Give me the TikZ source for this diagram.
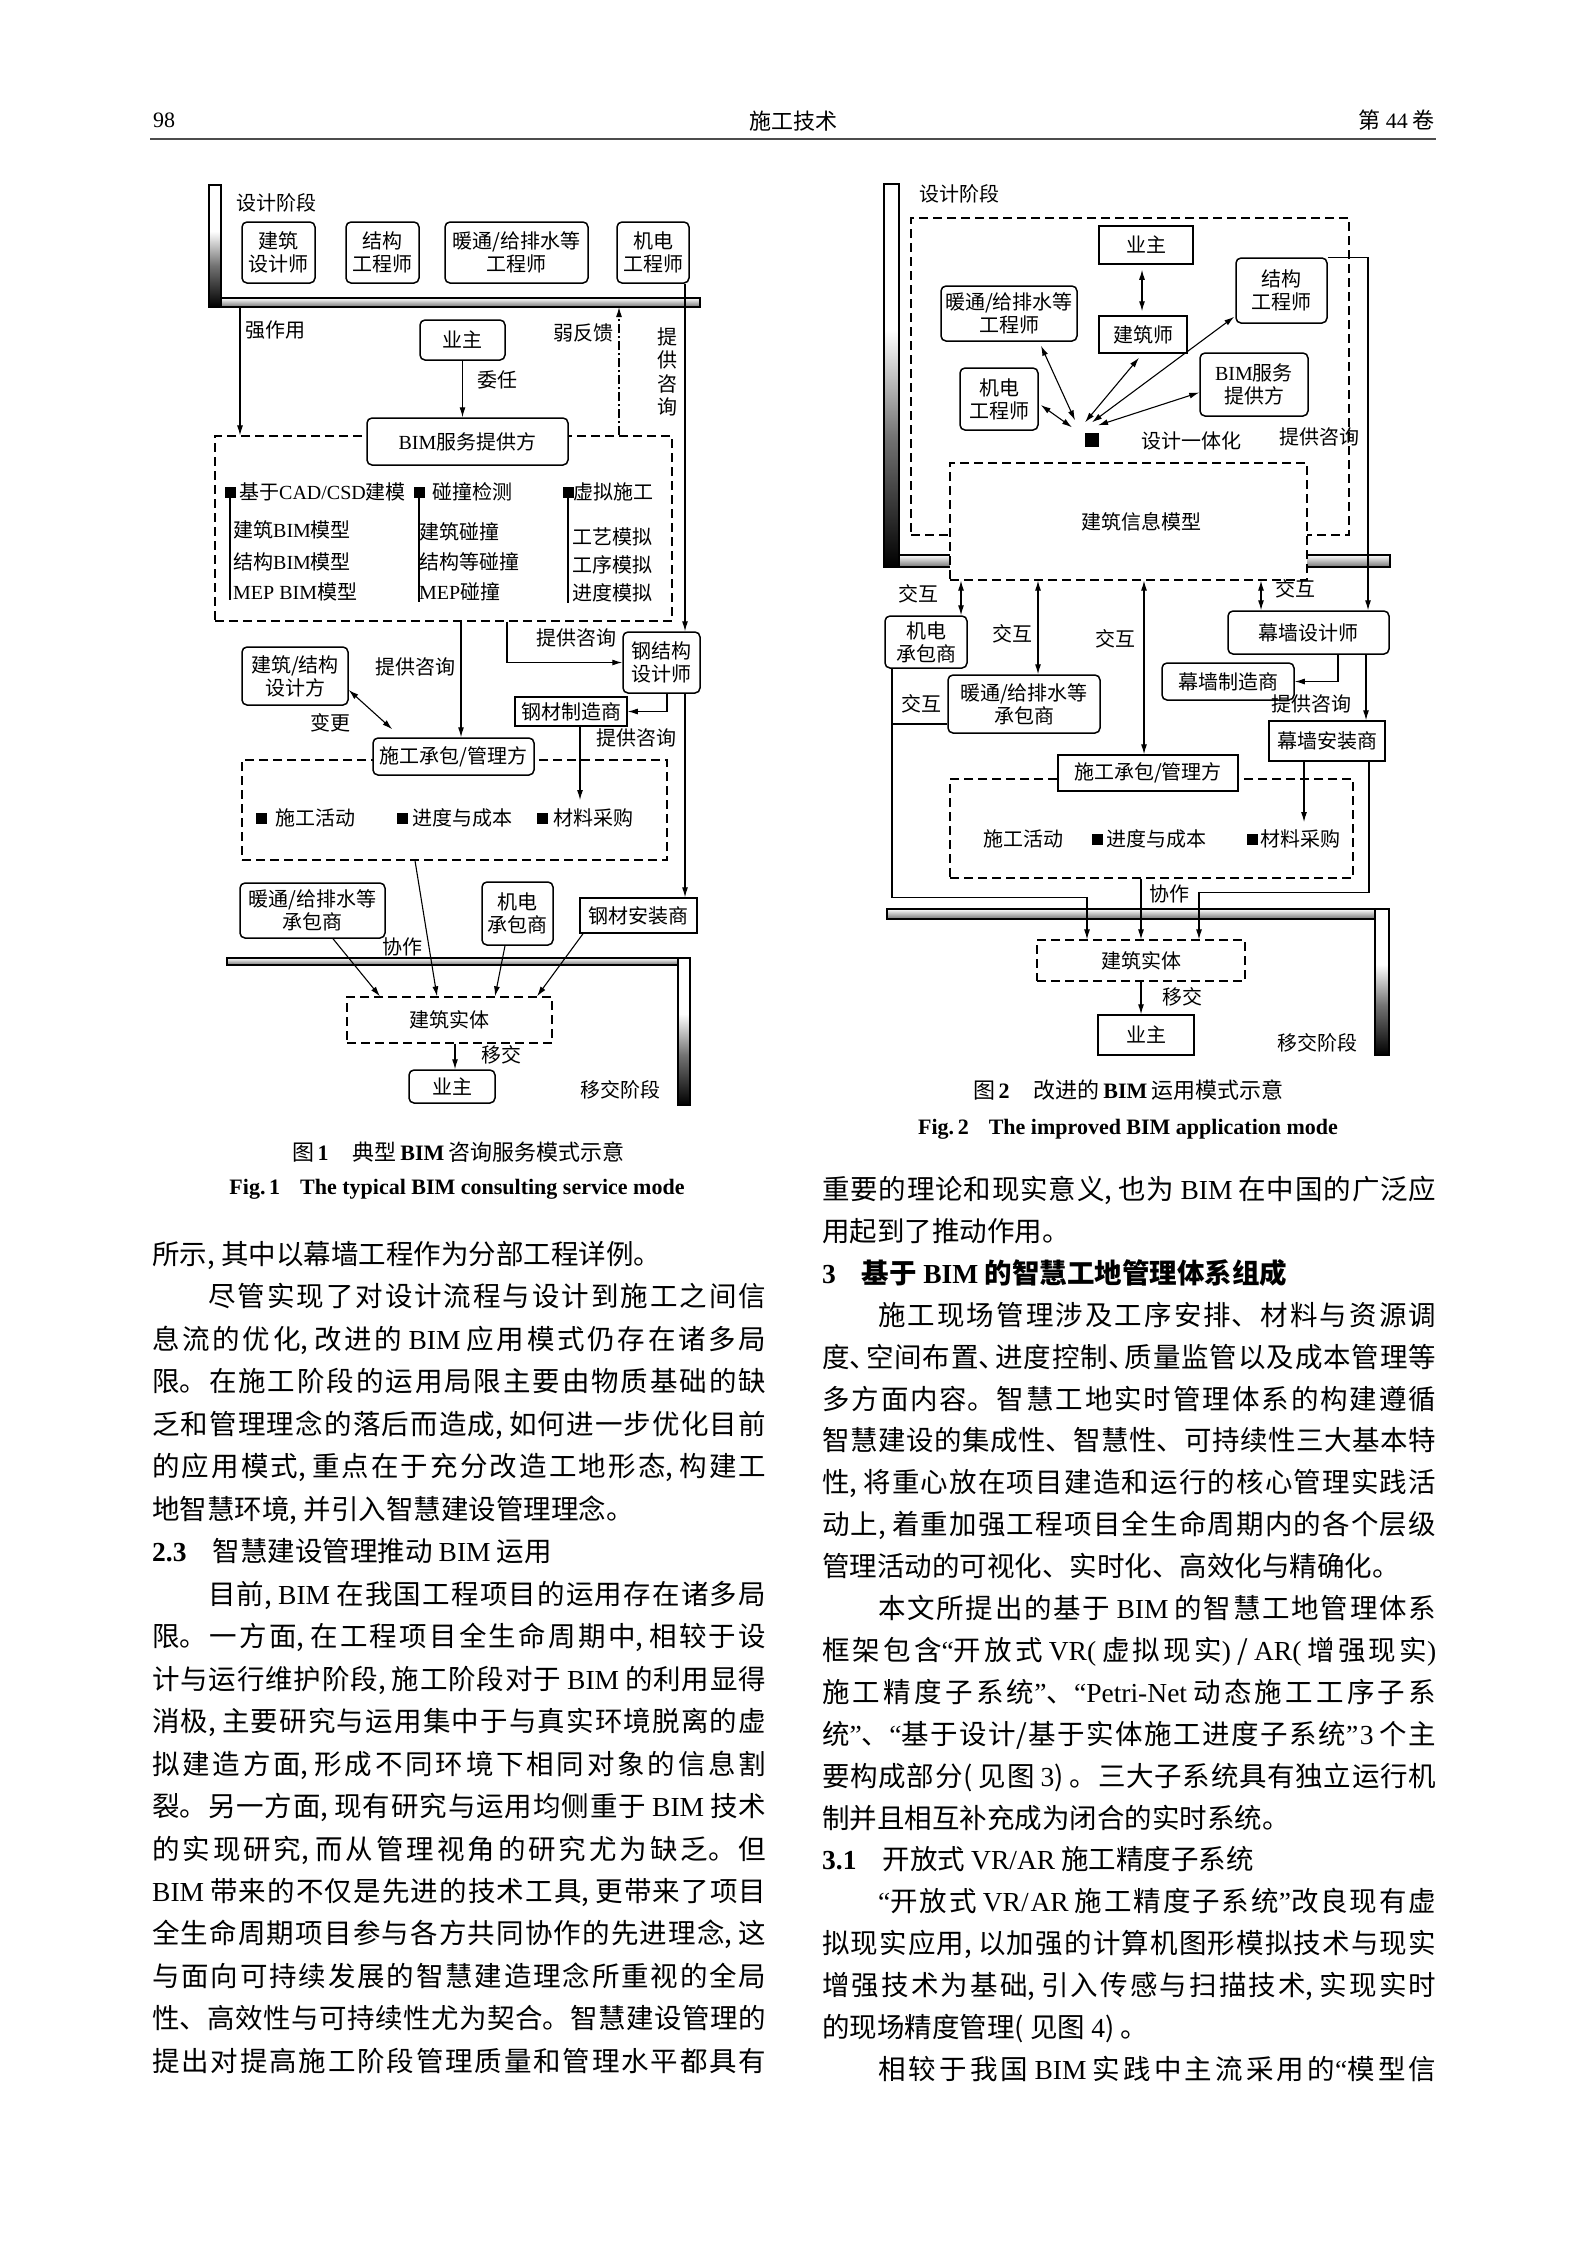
\documentclass[tikz,border=0pt]{standalone}
\usepackage{fontspec}
\setmainfont{Noto Sans CJK SC}
\newfontfamily\lat{Liberation Serif}
\usetikzlibrary{arrows.meta}
\XeTeXlinebreaklocale "zh"
\XeTeXlinebreakskip=0pt
\pgfdeclareverticalshading{barfade}{100bp}{color(0bp)=(black); color(25bp)=(black); color(42bp)=(black!55); color(56bp)=(white); color(100bp)=(white)}
\newcommand{\colfont}[1]{\fontsize{27.5}{#1}\selectfont\XeTeXlinebreakskip=0pt plus 1fil minus 1pt\relax\parfillskip=0pt plus 1fill\relax\parindent=0pt\parskip=0pt\relax}
\newcommand{\dun}{\makebox[0.6em][l]{、}}

\begin{document}
\begin{tikzpicture}[x=1pt, y=-1pt,
    every node/.style={font=\fontsize{20}{23}\selectfont},
    rbox/.style={draw, line width=1.5pt, rounded corners=5pt, fill=white, align=center, inner sep=0pt},
    sbox/.style={draw, line width=1.5pt, fill=white, align=center, inner sep=0pt},
    dbox/.style={draw, line width=1.3pt, dash pattern=on 9pt off 5pt, fill=white, align=center, inner sep=0pt},
    zone/.style={draw, line width=1.3pt, dash pattern=on 9pt off 5pt, inner sep=0pt},
    lbl/.style={inner sep=0pt},
    bul/.style={fill=black, minimum size=11pt, inner sep=0pt},
    arr/.style={line width=1.1pt, -{Latex[length=10pt,width=6pt]}},
    darr/.style={line width=1.1pt, {Latex[length=10pt,width=6pt]}-{Latex[length=10pt,width=6pt]}},
    plain/.style={line width=1.1pt},
    weak/.style={dash pattern=on 9pt off 3pt on 2pt off 3pt},
    hbar/.style={draw, line width=1.2pt, top color=white, bottom color=black!55, inner sep=0pt},
    vbar/.style={draw, line width=1.2pt, shading=barfade, inner sep=0pt}]

    \useasboundingbox (0,0) rectangle (1587,2244);
    \fill[white] (0,0) rectangle (1587,2244);

    % Running head
    \node[lbl, anchor=west, font=\fontsize{22}{24}\selectfont\lat] (pnum) at (153,120) {98};
    \node[lbl, font=\fontsize{22}{24}\selectfont] (jname) at (793,121) {施工技术};
    \node[lbl, anchor=east, font=\fontsize{22}{24}\selectfont] (vol) at (1435,120) {第 {\lat 44} 卷};
    \draw[line width=2pt, black!70] (150,139) -- (1436,139);

    %%%% Fig. 1
    % Design phase bar
    \node[hbar, minimum width=491pt, minimum height=9pt] (fdline) at (454.5,302.5) {};
    \node[vbar, minimum width=12pt, minimum height=122pt] (fdbar) at (215,246) {};
    \node[lbl] (fdlabel) at (276,203) {设计阶段};

    % Designers
    \node[rbox, minimum width=73pt, minimum height=61pt] (farch) at (278.5,252.5) {建筑\\设计师};
    \node[rbox, minimum width=73pt, minimum height=61pt] (fstr) at (382.5,252.5) {结构\\工程师};
    \node[rbox, minimum width=143pt, minimum height=61pt] (fhvac) at (516.5,252.5) {暖通/给排水等\\工程师};
    \node[rbox, minimum width=72pt, minimum height=61pt] (fmep) at (653,252.5) {机电\\工程师};

    % BIM service zone
    \node[zone, minimum width=457pt, minimum height=185pt] (fzone1) at (443.5,528.5) {};
    \node[rbox, minimum width=85pt, minimum height=40pt] (fowner) at (462.5,340) {业主};
    \node[rbox, minimum width=201pt, minimum height=47pt] (fbim) at (467.5,441.5) {{\lat BIM}服务提供方};
    \node[lbl] (fstrlbl) at (275,330) {强作用};
    \node[lbl] (fentrust) at (497,380) {委任};
    \node[lbl] (fweaklbl) at (583,333) {弱反馈};
    \node[lbl, align=center, font=\fontsize{20}{23.5}\selectfont] (fvask) at (667,372) {提\\供\\咨\\询};

    \coordinate (fstrong) at (240,307);
    \coordinate (fweak) at (619,307);
    \draw[arr] (fstrong) -- (fstrong |- fzone1.north);
    \draw[arr, weak] (fweak |- fzone1.north) -- (fweak);
    \draw[arr] (fowner.south) -- (fowner.south |- fbim.north);

    % Service columns
    \node[bul] (fb1) at (230,492) {};
    \node[bul] (fb2) at (419,492) {};
    \node[bul] (fb3) at (568,492) {};
    \node[lbl, anchor=west] (fc1) at (239,492) {基于{\lat CAD/CSD}建模};
    \node[lbl, anchor=west] (fc2) at (432,492) {碰撞检测};
    \node[lbl, anchor=west] (fc3) at (573,492) {虚拟施工};
    \draw[plain] (fb1.center) -- ++(0,108);
    \draw[plain] (fb2.center) -- ++(0,110);
    \draw[plain] (fb3.center) -- ++(0,111);
    \node[lbl, anchor=west] (fc1a) at (233,530) {建筑{\lat BIM}模型};
    \node[lbl, anchor=west] (fc1b) at (233,562) {结构{\lat BIM}模型};
    \node[lbl, anchor=west] (fc1c) at (233,592) {{\lat MEP BIM}模型};
    \node[lbl, anchor=west] (fc2a) at (419,532) {建筑碰撞};
    \node[lbl, anchor=west] (fc2b) at (419,562) {结构等碰撞};
    \node[lbl, anchor=west] (fc2c) at (419,592) {{\lat MEP}碰撞};
    \node[lbl, anchor=west] (fc3a) at (572,537) {工艺模拟};
    \node[lbl, anchor=west] (fc3b) at (572,565) {工序模拟};
    \node[lbl, anchor=west] (fc3c) at (572,593) {进度模拟};

    % Construction zone
    \node[rbox, minimum width=77pt, minimum height=61pt] (fsteel) at (661.5,662.5) {钢结构\\设计师};
    \node[rbox, minimum width=106pt, minimum height=58pt] (fdesigner) at (295,676) {建筑/结构\\设计方};
    \node[sbox, minimum width=112pt, minimum height=29pt] (fmaker) at (571,711.5) {钢材制造商};
    \node[zone, minimum width=425pt, minimum height=100pt] (fzone2) at (454.5,810) {};
    \node[rbox, minimum width=161pt, minimum height=37pt] (fcontr) at (453.5,756.5) {施工承包/管理方};
    \node[lbl] (fask1) at (415,667) {提供咨询};
    \node[lbl] (fask2) at (576,638) {提供咨询};
    \node[lbl] (fask3) at (636,738) {提供咨询};
    \node[lbl] (fchange) at (330,723) {变更};

    \node[bul] (fd1) at (261,818) {};
    \node[bul] (fd2) at (402,818) {};
    \node[bul] (fd3) at (542,818) {};
    \node[lbl, anchor=west] (fwork) at (275,818) {施工活动};
    \node[lbl, anchor=west] (fcost) at (412,818) {进度与成本};
    \node[lbl, anchor=west] (fbuyl) at (553,818) {材料采购};

    \draw[arr] ([xshift=32pt]fmep.south) -- ([xshift=23.5pt]fsteel.north);
    \draw[arr] ([xshift=17.5pt]fzone1.south) -- ([xshift=7.5pt]fcontr.north);
    \draw[arr] ([xshift=63.5pt]fzone1.south) |- (fsteel.west);
    \draw[darr] ([yshift=-14pt]fdesigner.east) -- ([shift={(20,-8)}]fcontr.north west);
    \draw[arr] ([xshift=5.5pt]fsteel.south) |- (fmaker.east);
    \coordinate (fbuy) at (580,800);
    \draw[arr] ([xshift=9pt]fmaker.south) -- (fbuy);

    % Contractors and hand-over
    \node[hbar, minimum width=463pt, minimum height=7pt] (ftline) at (458.5,961.5) {};
    \node[vbar, minimum width=12pt, minimum height=147pt] (ftbar) at (684,1031.5) {};
    \node[rbox, minimum width=145pt, minimum height=55pt] (fhvacc) at (312.5,910.5) {暖通/给排水等\\承包商};
    \node[rbox, minimum width=71pt, minimum height=63pt] (fmepc) at (517.5,913.5) {机电\\承包商};
    \node[sbox, minimum width=117pt, minimum height=35pt] (finst) at (638.5,915.5) {钢材安装商};
    \node[dbox, minimum width=205pt, minimum height=46pt] (fbody) at (449.5,1020) {建筑实体};
    \node[rbox, minimum width=86pt, minimum height=33pt] (fowner2) at (452,1086.5) {业主};
    \node[lbl] (fcoop) at (402,947) {协作};
    \node[lbl] (fhand) at (501,1055) {移交};
    \node[lbl] (fhandlbl) at (620,1090) {移交阶段};

    \draw[arr] ([xshift=23.5pt]fsteel.south) -- ([xshift=46.5pt]finst.north);
    \draw[arr] ([xshift=20.5pt]fhvacc.south) -- ([xshift=-69.5pt]fbody.north);
    \draw[arr] ([xshift=-39.5pt]fzone2.south) -- ([xshift=-12.5pt]fbody.north);
    \draw[arr] ([xshift=-12.5pt]fmepc.south) -- ([xshift=45.5pt]fbody.north);
    \draw[arr] ([xshift=-55.5pt]finst.south) -- ([xshift=87.5pt]fbody.north);
    \draw[arr] ([xshift=5.5pt]fbody.south) -- ([xshift=3pt]fowner2.north);

    %%%% Fig. 2
    % Design phase bar
    \node[hbar, minimum width=506pt, minimum height=12pt] (gdline) at (1137,561) {};
    \node[vbar, minimum width=15pt, minimum height=383pt] (gdbar) at (891.5,375.5) {};
    \node[lbl] (gdlabel) at (959,194) {设计阶段};

    % Integrated design
    \node[zone, minimum width=438pt, minimum height=317pt] (gzone1) at (1130,376.5) {};
    \node[sbox, minimum width=94pt, minimum height=38pt] (gowner) at (1146,245) {业主};
    \node[sbox, minimum width=88pt, minimum height=37pt] (garch) at (1143,334.5) {建筑师};
    \node[rbox, minimum width=91pt, minimum height=65pt] (gstr) at (1281.5,290.5) {结构\\工程师};
    \node[rbox, minimum width=136pt, minimum height=55pt] (ghvac) at (1009,313.5) {暖通/给排水等\\工程师};
    \node[rbox, minimum width=78pt, minimum height=62pt] (gmep) at (999,399) {机电\\工程师};
    \node[rbox, minimum width=108pt, minimum height=63pt] (gbim) at (1254,384.5) {{\lat BIM}服务\\提供方};
    \node[fill=black, minimum size=14pt, inner sep=0pt] (gint) at (1092,439.5) {};
    \node[lbl] (ginteg) at (1191,441) {设计一体化};
    \node[lbl] (gask1) at (1319.5,437) {提供咨询};
    \node[dbox, minimum width=357pt, minimum height=117pt] (gmodel) at (1128.5,521.5) {\hspace*{26pt}建筑信息模型};

    \draw[darr, shorten <=5pt, shorten >=4pt] ([xshift=-4pt]gowner.south) -- ([xshift=-1pt]garch.north);
    \draw[darr] ([shift={(32,4)}]ghvac.south) -- ([shift={(-17,-12)}]gint.north);
    \draw[darr] ([shift={(2,6)}]gmep.east) -- ([shift={(-20,-5)}]gint.north);
    \draw[darr] ([shift={(-4,4)}]garch.south) -- ([shift={(-7,-10)}]gint.north);
    \draw[darr] ([shift={(-1,-7)}]gstr.south west) -- ([shift={(0,-10)}]gint.north);
    \draw[darr] ([shift={(0,8)}]gbim.west) -- ([shift={(6,-7)}]gint.north);

    % Construction side
    \node[rbox, minimum width=82pt, minimum height=52pt] (gmepc) at (926,642) {机电\\承包商};
    \node[rbox, minimum width=152pt, minimum height=58pt] (ghvacc) at (1024,704) {暖通/给排水等\\承包商};
    \node[rbox, minimum width=161pt, minimum height=43pt] (gcwd) at (1308.5,632.5) {幕墙设计师};
    \node[rbox, minimum width=132pt, minimum height=37pt] (gcwm) at (1228,681.5) {幕墙制造商};
    \node[sbox, minimum width=116pt, minimum height=40pt] (gcwi) at (1327,741) {幕墙安装商};
    \node[zone, minimum width=403pt, minimum height=99pt] (gzone2) at (1151.5,828.5) {};
    \node[sbox, minimum width=180pt, minimum height=36pt] (gcontr) at (1148,773) {施工承包/管理方};
    \node[lbl] (gwork) at (1023.5,839) {施工活动};
    \node[bul] (gd2) at (1097.5,839) {};
    \node[bul] (gd3) at (1252,839) {};
    \node[lbl, anchor=west] (gcost) at (1106,839) {进度与成本};
    \node[lbl, anchor=west] (gbuyl) at (1260,839) {材料采购};
    \node[lbl] (gi1) at (918.5,594) {交互};
    \node[lbl] (gi2) at (1012.5,634) {交互};
    \node[lbl] (gi3) at (1115.5,639) {交互};
    \node[lbl] (gi4) at (1295.5,589) {交互};
    \node[lbl] (gi5) at (921.5,704) {交互};
    \node[lbl] (gask2) at (1311.5,704) {提供咨询};

    \draw[arr] (gstr.north east) -| ([xshift=59.5pt]gcwd.north);
    \draw[darr] ([xshift=35pt]gmepc.north) -- ([xshift=35pt]gmepc.north |- gmodel.south);
    \draw[darr] ([xshift=14pt]ghvacc.north) -- ([xshift=14pt]ghvacc.north |- gmodel.south);
    \draw[darr] ([xshift=-4pt]gcontr.north) -- ([xshift=-4pt]gcontr.north |- gmodel.south);
    \draw[darr] ([xshift=-47.5pt]gcwd.north) -- ([xshift=-47.5pt]gcwd.north |- gmodel.south);
    \draw[arr] ([xshift=29.5pt]gcwd.south) |- (gcwm.east);
    \draw[arr] ([xshift=57.5pt]gcwd.south) -- ([xshift=39pt]gcwi.north);
    \coordinate (gbuy) at (1304,822);
    \draw[arr] ([xshift=-23pt]gcwi.south) -- (gbuy);

    % Hand-over
    \node[hbar, minimum width=488pt, minimum height=10pt] (gtline) at (1131,914) {};
    \node[vbar, minimum width=14pt, minimum height=146pt] (gtbar) at (1382,982) {};
    \node[dbox, minimum width=208pt, minimum height=41pt] (gbody) at (1141,960.5) {建筑实体};
    \node[sbox, minimum width=96pt, minimum height=40pt] (gowner2) at (1146,1035) {业主};
    \node[lbl] (gcoop) at (1169.5,894) {协作};
    \node[lbl] (ghand) at (1182.5,997) {移交};
    \node[lbl] (ghandlbl) at (1317.5,1043) {移交阶段};

    \draw[arr] ([xshift=42pt]gcwi.south) -- ++(0,131) -| ([xshift=58pt]gbody.north);
    \draw[arr] ([xshift=-34pt]gmepc.south) -- ++(0,229) -| ([xshift=-54pt]gbody.north);
    \draw[plain] ([yshift=-20pt]ghvacc.west) -- ++(-56,0);
    \draw[arr] (gzone2.south -| gbody.north) -- (gbody.north);
    \draw[arr] (gbody.south) -- (gbody.south |- gowner2.north);

    % Captions
    \node[lbl, font=\fontsize{22}{24}\selectfont] (fcapcn) at (458,1152) {图\,{\lat\bfseries 1}\hspace{24pt}典型\,{\lat\bfseries BIM}\,咨询服务模式示意};
    \node[lbl, font=\fontsize{22}{24}\selectfont\lat\bfseries] (fcapen) at (457,1189) {Fig.\,1\hspace{20pt}The typical BIM consulting service mode};
    \node[lbl, font=\fontsize{22}{24}\selectfont] (gcapcn) at (1128,1090) {图\,{\lat\bfseries 2}\hspace{24pt}改进的\,{\lat\bfseries BIM}\,运用模式示意};
    \node[lbl, font=\fontsize{22}{24}\selectfont\lat\bfseries] (gcapen) at (1128,1129) {Fig.\,2\hspace{20pt}The improved BIM application mode};

    % Left column text
    \node[text width=614pt, align=justify, inner sep=0pt, anchor=north west] (lcol) at (152,1241) {\colfont{42.47}%
所示, 其中以幕墙工程作为分部工程详例。\par
\hspace*{56pt}尽管实现了对设计流程与设计到施工之间信\break
息流的优化, 改进的 {\lat BIM} 应用模式仍存在诸多局\break
限。在施工阶段的运用局限主要由物质基础的缺\break
乏和管理理念的落后而造成, 如何进一步优化目前\break
的应用模式, 重点在于充分改造工地形态, 构建工\break
地智慧环境, 并引入智慧建设管理理念。\par
{\lat\bfseries 2.3}\hspace{26pt}智慧建设管理推动 {\lat BIM} 运用\par
\hspace*{56pt}目前, {\lat BIM} 在我国工程项目的运用存在诸多局\break
限。一方面, 在工程项目全生命周期中, 相较于设\break
计与运行维护阶段, 施工阶段对于 {\lat BIM} 的利用显得\break
消极, 主要研究与运用集中于与真实环境脱离的虚\break
拟建造方面, 形成不同环境下相同对象的信息割\break
裂。另一方面, 现有研究与运用均侧重于 {\lat BIM} 技术\break
的实现研究, 而从管理视角的研究尤为缺乏。但\break
{\lat BIM} 带来的不仅是先进的技术工具, 更带来了项目\break
全生命周期项目参与各方共同协作的先进理念, 这\break
与面向可持续发展的智慧建造理念所重视的全局\break
性、高效性与可持续性尤为契合。智慧建设管理的\break
提出对提高施工阶段管理质量和管理水平都具有\parfillskip=0pt\par};

    % Right column text
    \node[text width=614pt, align=justify, inner sep=0pt, anchor=north west] (rcol) at (822,1176) {\colfont{41.9}%
重要的理论和现实意义, 也为 {\lat BIM} 在中国的广泛应\break
用起到了推动作用。\par
{\bfseries{\lat 3}\hspace{26pt}基于 {\lat BIM} 的智慧工地管理体系组成}\par
\hspace*{56pt}施工现场管理涉及工序安排、材料与资源调\break
度\dun 空间布置\dun 进度控制\dun 质量监管以及成本管理等\break
多方面内容。智慧工地实时管理体系的构建遵循\break
智慧建设的集成性、智慧性、可持续性三大基本特\break
性, 将重心放在项目建造和运行的核心管理实践活\break
动上, 着重加强工程项目全生命周期内的各个层级\break
管理活动的可视化、实时化、高效化与精确化。\par
\hspace*{56pt}本文所提出的基于 {\lat BIM} 的智慧工地管理体系\break
框架包含{\lat “}开放式 {\lat VR(} 虚拟现实{\lat )} / {\lat AR(} 增强现实{\lat )}\break
施工精度子系统{\lat ”}、{\lat “Petri-Net} 动态施工工序子系\break
统{\lat ”}、{\lat “}基于设计/基于实体施工进度子系统{\lat ”3} 个主\break
要构成部分( 见图 {\lat 3}) 。三大子系统具有独立运行机\break
制并且相互补充成为闭合的实时系统。\par
{\lat\bfseries 3.1}\hspace{26pt}开放式 {\lat VR/AR} 施工精度子系统\par
\hspace*{56pt}{\lat “}开放式 {\lat VR/AR} 施工精度子系统{\lat ”}改良现有虚\break
拟现实应用, 以加强的计算机图形模拟技术与现实\break
增强技术为基础, 引入传感与扫描技术, 实现实时\break
的现场精度管理( 见图 {\lat 4}) 。\par
\hspace*{56pt}相较于我国 {\lat BIM} 实践中主流采用的{\lat “}模型信\parfillskip=0pt\par};
\end{tikzpicture}
\end{document}
